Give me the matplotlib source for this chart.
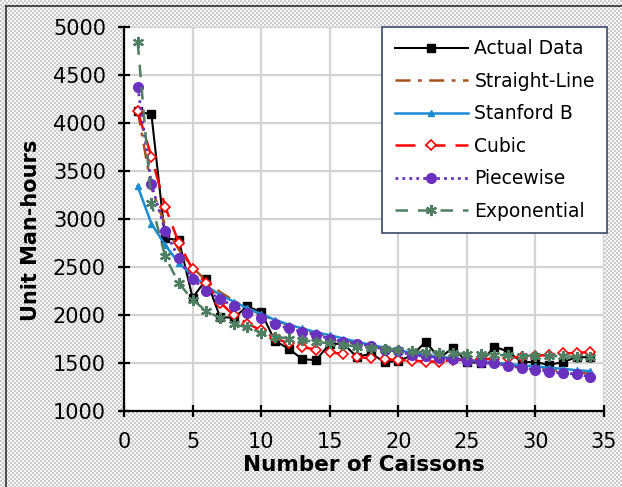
import numpy as np
import matplotlib
matplotlib.use("Agg")
import matplotlib.pyplot as plt

caissons = list(range(1, 35))

actual = [4120, 4090, 2800, 2780, 2180, 2370, 1980, 1970, 2090, 2030,
          1730, 1650, 1540, 1530, 1700, 1700, 1560, 1600, 1510, 1520,
          1580, 1720, 1550, 1660, 1510, 1500, 1670, 1620, 1510, 1510,
          1480, 1510, 1560, 1560]
straight_line = [4130, 3325, 2935, 2680, 2495, 2355, 2240, 2150, 2070, 2005,
                 1945, 1895, 1850, 1810, 1770, 1740, 1705, 1680, 1650, 1625,
                 1600, 1580, 1560, 1540, 1520, 1505, 1490, 1475, 1460, 1445,
                 1430, 1415, 1400, 1390]
stanford_b = [3340, 2950, 2730, 2540, 2410, 2300, 2210, 2140, 2070, 2010,
              1950, 1900, 1860, 1820, 1790, 1755, 1720, 1690, 1660, 1635,
              1605, 1585, 1565, 1550, 1535, 1520, 1505, 1490, 1475, 1465,
              1450, 1440, 1425, 1415]
cubic = [4120, 3650, 3130, 2750, 2475, 2330, 2130, 2000, 1910, 1840,
         1760, 1705, 1665, 1640, 1610, 1595, 1560, 1550, 1540, 1530,
         1525, 1515, 1515, 1530, 1535, 1540, 1545, 1555, 1565, 1575,
         1585, 1600, 1605, 1615]
piecewise = [4380, 3360, 2880, 2590, 2375, 2255, 2165, 2095, 2025, 1965,
             1905, 1860, 1825, 1790, 1755, 1720, 1700, 1680, 1640, 1620,
             1585, 1570, 1555, 1540, 1525, 1510, 1495, 1470, 1450, 1430,
             1410, 1395, 1385, 1355]
exponential = [4840, 3165, 2610, 2330, 2160, 2040, 1970, 1905, 1870, 1815,
               1775, 1755, 1740, 1720, 1705, 1690, 1670, 1660, 1645, 1635,
               1620, 1615, 1608, 1600, 1595, 1590, 1585, 1580, 1578, 1575,
               1572, 1570, 1565, 1560]

x_ticks = [0, 5, 10, 15, 20, 25, 30, 35]
y_ticks = [1000, 1500, 2000, 2500, 3000, 3500, 4000, 4500, 5000]

plt.rcParams['font.family'] = ['DejaVu Sans']

W, H = 622, 487
fig = plt.figure(figsize=(W / 100, H / 100), dpi=100)

# checkered background in a full-figure axes
bgax = fig.add_axes([0, 0, 1, 1], zorder=-10)
yy, xx = np.mgrid[0:H, 0:W]
pat = (((xx // 2) + (yy // 2)) % 2).astype(float)
bg = np.where(pat[..., None] > 0, np.array([0.97, 0.97, 0.97]), np.array([0.80, 0.80, 0.80]))
bgax.imshow(bg, extent=[0, W, H, 0], interpolation='nearest', aspect='auto')
bgax.set_xlim(0, W)
bgax.set_ylim(H, 0)
bgax.axis('off')
bgax.plot([6, 6], [H, 6], color='#333333', lw=1.2)
bgax.plot([6, W], [6, 6], color='#333333', lw=1.2)

ax = fig.add_axes([124 / W, 1 - 411 / H, (604 - 124) / W, (411 - 27) / H], zorder=1)
ax.set_facecolor('white')

ax.plot(caissons, actual, color='black', lw=1.5, marker='s', ms=6,
        label='Actual Data', zorder=3)
ax.plot(caissons, straight_line, color='#a9501e', lw=1.8, linestyle=(0, (6, 3, 1.5, 3)),
        label='Straight-Line', zorder=3)
ax.plot(caissons, stanford_b, color='#1b8bd3', lw=1.8, marker='^', ms=5,
        label='Stanford B', zorder=3)
ax.plot(caissons, cubic, color='#ff0000', lw=1.8, linestyle=(0, (8, 4)), marker='D', ms=5.5,
        mfc='white', mec='#ff0000', mew=1.2, label='Cubic', zorder=3)
ax.plot(caissons, piecewise, color='#6a30c0', lw=2, linestyle=(0, (1, 1.5)), marker='o', ms=7,
        label='Piecewise', zorder=3)
ax.plot(caissons, exponential, color='#4f7f62', lw=1.8, linestyle=(0, (5, 4)), marker=(6, 2, 0), ms=8,
        mew=1.6, label='Exponential', zorder=3)

ax.set_xlim(0, 35)
ax.set_ylim(1000, 5000)
ax.set_xticks(x_ticks)
ax.set_yticks(y_ticks)
ax.grid(True, color='#d4d4d4', lw=1.6)
ax.set_axisbelow(True)

for s in ['top', 'right']:
    ax.spines[s].set_visible(False)
for s in ['left', 'bottom']:
    ax.spines[s].set_linewidth(1.6)
    ax.spines[s].set_color('black')

ax.tick_params(axis='both', direction='inout', length=8, width=1.6, labelsize=15)
ax.tick_params(axis='y', pad=9)
ax.tick_params(axis='x', pad=11)

ax.set_xlabel('Number of Caissons', fontsize=15.5, fontweight='bold', labelpad=2)
ax.set_ylabel('Unit Man-hours', fontsize=15, fontweight='bold')
ax.yaxis.set_label_coords(-0.172, 0.47)

leg = ax.legend(loc='upper right', bbox_to_anchor=((607 - 124) / (604 - 124), 1.0),
                fontsize=13.5, frameon=True, fancybox=False, edgecolor='#3b4a6b',
                framealpha=1, handlelength=3.9, handletextpad=0.35, labelspacing=0.72,
                borderpad=0.65, borderaxespad=0)
leg.get_frame().set_linewidth(1.2)

fig.savefig('out.png', dpi=100)
